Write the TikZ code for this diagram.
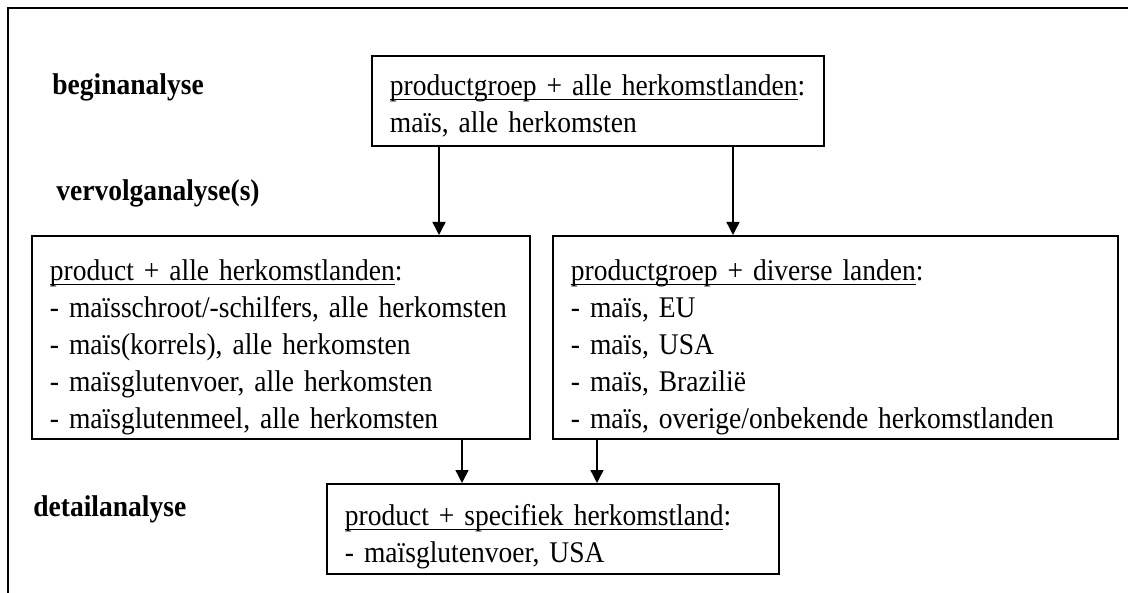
\documentclass[tikz,border=0pt]{standalone}
\usepackage{fontspec}
\setmainfont[FakeStretch=0.917]{Liberation Serif}
\usetikzlibrary{arrows.meta, positioning}

\newcommand{\diagramFont}{\fontsize{15pt}{18.4pt}\selectfont\spaceskip=3.3pt}
\newcommand{\ulText}[1]{{\setbox0=\hbox{#1}\rlap{\rule[-2pt]{\wd0}{0.6pt}}\box0}}

\begin{document}
\begin{tikzpicture}[x=0.5pt, y=-0.5pt, font=\diagramFont,
	box/.style={draw, line width=0.9pt, align=left, anchor=north west, inner xsep=9pt, inner ysep=0pt},
	stage/.style={font=\diagramFont\bfseries, anchor=base west, inner sep=0pt},
	arrowDown/.style={-{Triangle[length=6.5pt, width=6.5pt]}, line width=0.7pt, draw=black}]
	\useasboundingbox (0,0) rectangle (1128,593);
	\draw[line width=1pt] (1128,8) -- (8,8) -- (8,593);

	\node[stage] (beginLabel) at (52,95) {beginanalyse};
	\node[stage] (vervolgLabel) at (56,200) {vervolganalyse(s)};
	\node[stage] (detailLabel) at (33,516) {detailanalyse};

	\node[box, text width=208pt, text height=20pt, text depth=25pt] (beginBox) at (371,55)
		{\ulText{productgroep + alle herkomstlanden}:\\ maïs, alle herkomsten};
	\node[box, text width=231pt, text height=22.5pt, text depth=79pt] (productBox) at (31,235)
		{\ulText{product + alle herkomstlanden}:\\
		- maïsschroot/-schilfers, alle herkomsten\\
		- maïs(korrels), alle herkomsten\\
		- maïsglutenvoer, alle herkomsten\\
		- maïsglutenmeel, alle herkomsten};
	\node[box, text width=264.5pt, text height=22.5pt, text depth=79pt] (landenBox) at (552,235)
		{\ulText{productgroep + diverse landen}:\\
		- maïs, EU\\
		- maïs, USA\\
		- maïs, Brazilië\\
		- maïs, overige/onbekende herkomstlanden};
	\node[box, text width=208pt, text height=21pt, text depth=24pt] (detailBox) at (326,483)
		{\ulText{product + specifiek herkomstland}:\\ - maïsglutenvoer, USA};

	\draw[arrowDown] ([xshift=34pt]beginBox.south west) -- ([xshift=204pt]productBox.north west);
	\draw[arrowDown] ([xshift=181pt]beginBox.south west) -- ([xshift=90.5pt]landenBox.north west);
	\draw[arrowDown] ([xshift=215.5pt]productBox.south west) -- ([xshift=68pt]detailBox.north west);
	\draw[arrowDown] ([xshift=22.5pt]landenBox.south west) -- ([xshift=135.5pt]detailBox.north west);
\end{tikzpicture}
\end{document}
